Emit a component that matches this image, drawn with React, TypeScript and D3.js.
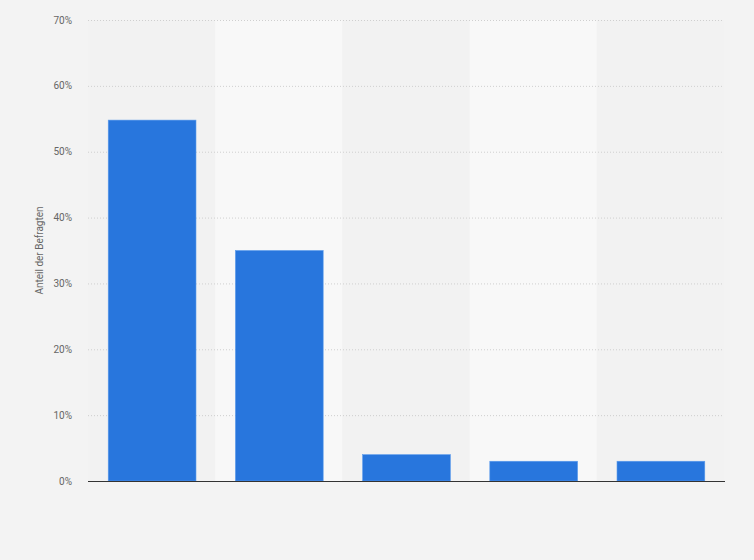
import React from "react";
import * as d3 from "d3";

const categories = ["Kategorie 1", "Kategorie 2", "Kategorie 3", "Kategorie 4", "Kategorie 5"];
const values = [54.8, 35, 4, 3, 3];
const yTicks = [0, 10, 20, 30, 40, 50, 60, 70];
const yLabel = "Anteil der Befragten";

const W = 754;
const H = 560;
const M = { left: 88, right: 30, top: 20, bottom: 79 };

export default function App() {
  const x = d3
    .scaleBand<string>()
    .domain(categories)
    .range([M.left, W - M.right])
    .paddingInner(0)
    .paddingOuter(0);
  const y = d3.scaleLinear().domain([0, 70]).range([H - M.bottom, M.top]);
  const bw = x.bandwidth();
  const barW = bw * 0.69;
  const font = "Roboto, 'Open Sans', Arial, sans-serif";

  return (
    <div style={{ position: "fixed", left: 0, top: 0 }}>
      <svg width={W} height={H} style={{ display: "block" }}>
        <rect x={0} y={0} width={W} height={H} fill="#f3f3f3" />
        {categories.map((c, i) => (
          <rect
            key={"band" + c}
            x={x(c)}
            y={y(70)}
            width={bw}
            height={y(0) - y(70)}
            fill={i % 2 === 1 ? "#f8f8f8" : "#f2f2f2"}
          />
        ))}
        {yTicks.map((t) => (
          <g key={"t" + t}>
            {t > 0 && (
              <line
                x1={M.left}
                x2={W - M.right}
                y1={y(t) + 0.5}
                y2={y(t) + 0.5}
                stroke="#cfcfcf"
                strokeWidth={1}
                strokeDasharray="1,2"
              />
            )}
            <text
              x={72}
              y={y(t)}
              dy="0.35em"
              textAnchor="end"
              fontFamily={font}
              fontSize={10}
              fill="#666"
            >
              {t}%
            </text>
          </g>
        ))}
        {categories.map((c, i) => (
          <rect
            key={"bar" + c}
            x={(x(c) as number) + (bw - barW) / 2 + 0.5}
            y={y(values[i])}
            width={barW}
            height={y(0) - y(values[i])}
            fill="#2876dd"
            stroke="#5b9bec"
            strokeWidth={0.6}
          />
        ))}
        <line
          x1={M.left}
          x2={W - M.right + 1}
          y1={y(0) + 0.5}
          y2={y(0) + 0.5}
          stroke="#333"
          strokeWidth={1}
        />
        <text
          transform={`translate(43, ${(y(0) + y(70)) / 2}) rotate(-90)`}
          textAnchor="middle"
          fontFamily={font}
          fontSize={10}
          fill="#666"
        >
          {yLabel}
        </text>
      </svg>
    </div>
  );
}
